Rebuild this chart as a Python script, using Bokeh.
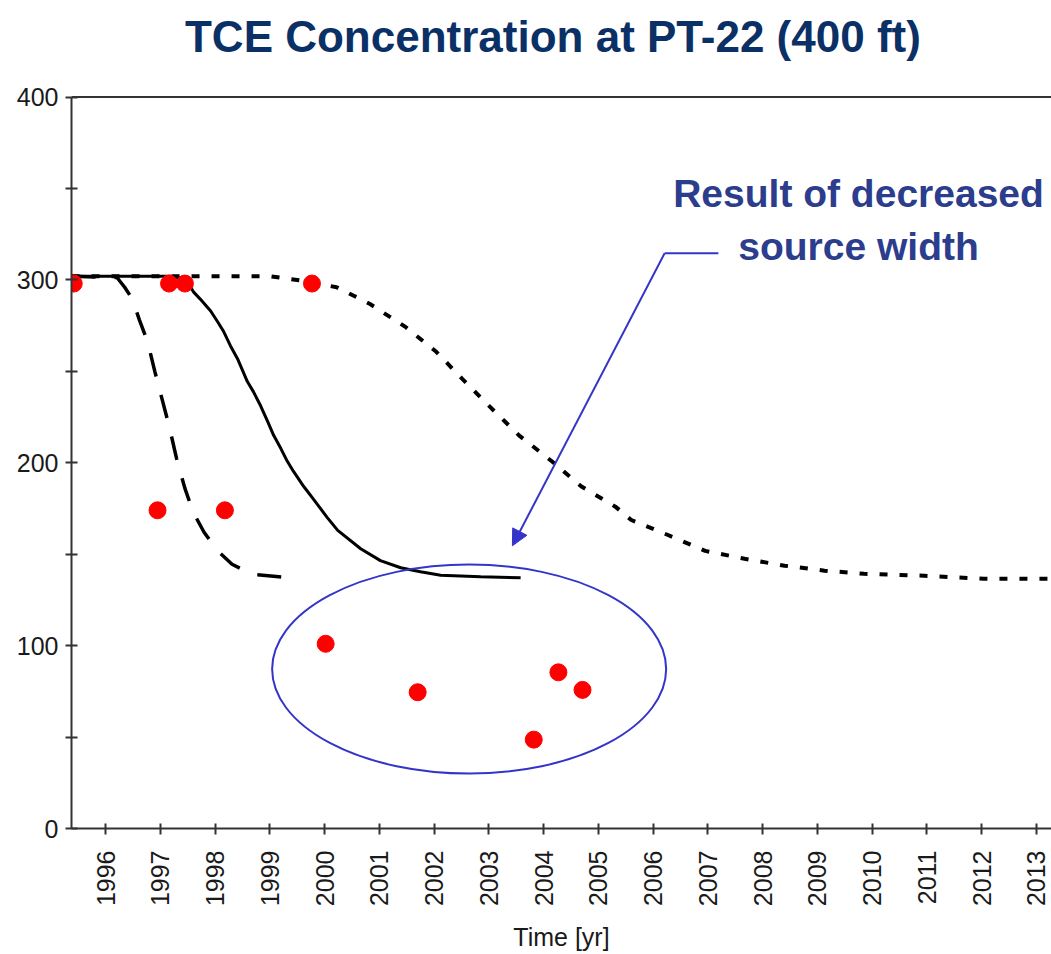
import math

from bokeh.plotting import figure
from bokeh.models import FixedTicker, Range1d, Label, Span, Arrow, NormalHead
from bokeh.embed import file_html
from bokeh.resources import INLINE

# Axis ticks
years = list(range(1996, 2014))
year_labels = [str(y) for y in years]
tce_ticks = [0, 100, 200, 300, 400]
tce_minor = [50, 150, 250, 350]

# Observed TCE concentrations at PT-22
obs_year = [1995.42, 1996.95, 1997.16, 1997.45, 1998.18, 1999.77,
            2000.02, 2001.70, 2003.82, 2004.27, 2004.71]
obs_tce = [298, 174, 298, 298, 174, 298, 101, 74.5, 48.6, 85.4, 75.8]

# Model run with fast decline (long dashes)
fast_year = [1995.38, 1996.21, 1996.35, 1996.49, 1996.62, 1996.77, 1996.90,
             1997.04, 1997.17, 1997.30, 1997.45, 1997.60, 1997.80, 1998.04,
             1998.31, 1998.68, 1999.07, 1999.53]
fast_tce = [302, 301.3, 296, 289.5, 278, 266, 250, 234, 219, 202, 186, 173,
            162, 152, 144.5, 139, 138, 136.5]

# Model run with decreased source width (solid)
mid_year = [1995.38, 1997.19, 1997.37, 1997.50, 1997.61, 1997.73, 1997.92,
            1998.05, 1998.16, 1998.28, 1998.41, 1998.59, 1998.70, 1998.83,
            1998.96, 1999.07, 1999.20, 1999.32, 1999.43, 1999.62, 1999.80,
            2000.05, 2000.24, 2000.66, 2001.02, 2001.39, 2001.75, 2002.12,
            2002.85, 2003.58]
mid_tce = [302, 302, 301, 298.8, 293.3, 289.5, 283, 277, 271.6, 264, 256.9,
           244.4, 238.9, 231.3, 222.6, 215, 207.9, 200.8, 195.4, 187, 180,
           170, 163, 153, 146.5, 142.6, 140.4, 138.5, 137.7, 137.1]

# Model run with slow decline (short dashes)
slow_year = [1995.38, 1999.00, 1999.60, 2000.22, 2000.82, 2001.49, 2002.04,
             2002.51, 2003.05, 2003.55, 2004.15, 2004.69, 2005.31, 2005.60,
             2006.27, 2006.95, 2007.67, 2008.40, 2009.13, 2009.85, 2010.95,
             2012.04, 2013.27]
slow_tce = [302, 302, 299.5, 296, 287, 274, 260.7, 246, 229.7, 215, 200.8,
            187, 176, 168.7, 160.5, 151.8, 147.5, 143.7, 141, 139.3, 138.2,
            136.6, 136.6]

AXIS = "#333333"
TEXT = "#1a1a1a"
NAVY = "#0a3066"
NOTE = "#2b3d8c"
BLUE = "#3434c8"

# the frame reaches the top of the canvas; headroom above 400 holds the title
Y_TOP = 400 + 97 / 1.8375

p = figure(width=1051, height=954,
           x_range=Range1d(1995.379, 2013.274), y_range=Range1d(0, Y_TOP),
           output_backend="svg", toolbar_location=None,
           min_border_left=71, min_border_right=0,
           min_border_top=0, min_border_bottom=122)
p.xgrid.visible = False
p.ygrid.visible = False
p.outline_line_color = None
p.background_fill_color = "white"
p.border_fill_color = "white"

# x axis
xa = p.xaxis[0]
xa.ticker = FixedTicker(ticks=years, minor_ticks=[])
xa.major_label_overrides = {y: s for y, s in zip(years, year_labels)}
xa.major_label_orientation = math.pi / 2
xa.axis_label = "Time [yr]"
xa.axis_label_text_font = "Liberation Sans"
xa.axis_label_text_font_style = "normal"
xa.axis_label_text_font_size = "25px"
xa.axis_label_text_color = TEXT
xa.axis_label_standoff = 14
xa.major_label_standoff = 16
xa.major_tick_in = 5
xa.major_tick_out = 6

# y axis, drawn only over 0-400
ya = p.yaxis[0]
ya.ticker = FixedTicker(ticks=tce_ticks, minor_ticks=tce_minor)
ya.bounds = (0, 400)
ya.major_label_standoff = 7
ya.major_tick_in = 6
ya.major_tick_out = 6
ya.minor_tick_in = 6
ya.minor_tick_out = 6

for ax in (xa, ya):
    ax.axis_line_color = AXIS
    ax.axis_line_width = 2
    ax.major_tick_line_color = AXIS
    ax.major_tick_line_width = 2
    ax.minor_tick_line_color = AXIS if ax is ya else None
    ax.minor_tick_line_width = 2
    ax.major_label_text_font = "Liberation Sans"
    ax.major_label_text_font_size = "25px"
    ax.major_label_text_color = TEXT

# top border of the plot area
p.add_layout(Span(location=400, dimension="width", line_color=AXIS, line_width=2))

# model curves
p.line(slow_year, slow_tce, line_color="black", line_width=4, line_dash="8 12")
p.line(fast_year, fast_tce, line_color="black", line_width=3.5, line_dash="24 19")
p.line(mid_year, mid_tce, line_color="black", line_width=3)

# observations
p.scatter(obs_year, obs_tce, size=17, fill_color="#ff0000", line_color="#ff0000")

# highlight of the late observations
p.ellipse(x=[2002.64], y=[87.2], width=7.195, height=114.3,
          fill_color=None, line_color=BLUE, line_width=2)
p.line([2007.19, 2006.21], [314.6, 314.6], line_color=BLUE, line_width=2)
p.add_layout(Arrow(end=NormalHead(size=16, fill_color=BLUE, line_color=BLUE),
                   x_start=2006.21, y_start=314.6, x_end=2003.43, y_end=154.6,
                   line_color=BLUE, line_width=2))

p.add_layout(Label(x=2009.75, y=347, text="Result of decreased",
                   text_align="center", text_baseline="alphabetic",
                   text_font="Liberation Sans", text_font_style="bold",
                   text_font_size="39px", text_color=NOTE))
p.add_layout(Label(x=2009.75, y=318.2, text="source width",
                   text_align="center", text_baseline="alphabetic",
                   text_font="Liberation Sans", text_font_style="bold",
                   text_font_size="39px", text_color=NOTE))

# chart title
p.add_layout(Label(x=2004.17, y=433.3, text="TCE Concentration at PT-22 (400 ft)",
                   text_align="center", text_baseline="alphabetic",
                   text_font="Liberation Sans", text_font_style="bold",
                   text_font_size="44px", text_color=NAVY))

open("out.html", "w").write(file_html(p, INLINE))
